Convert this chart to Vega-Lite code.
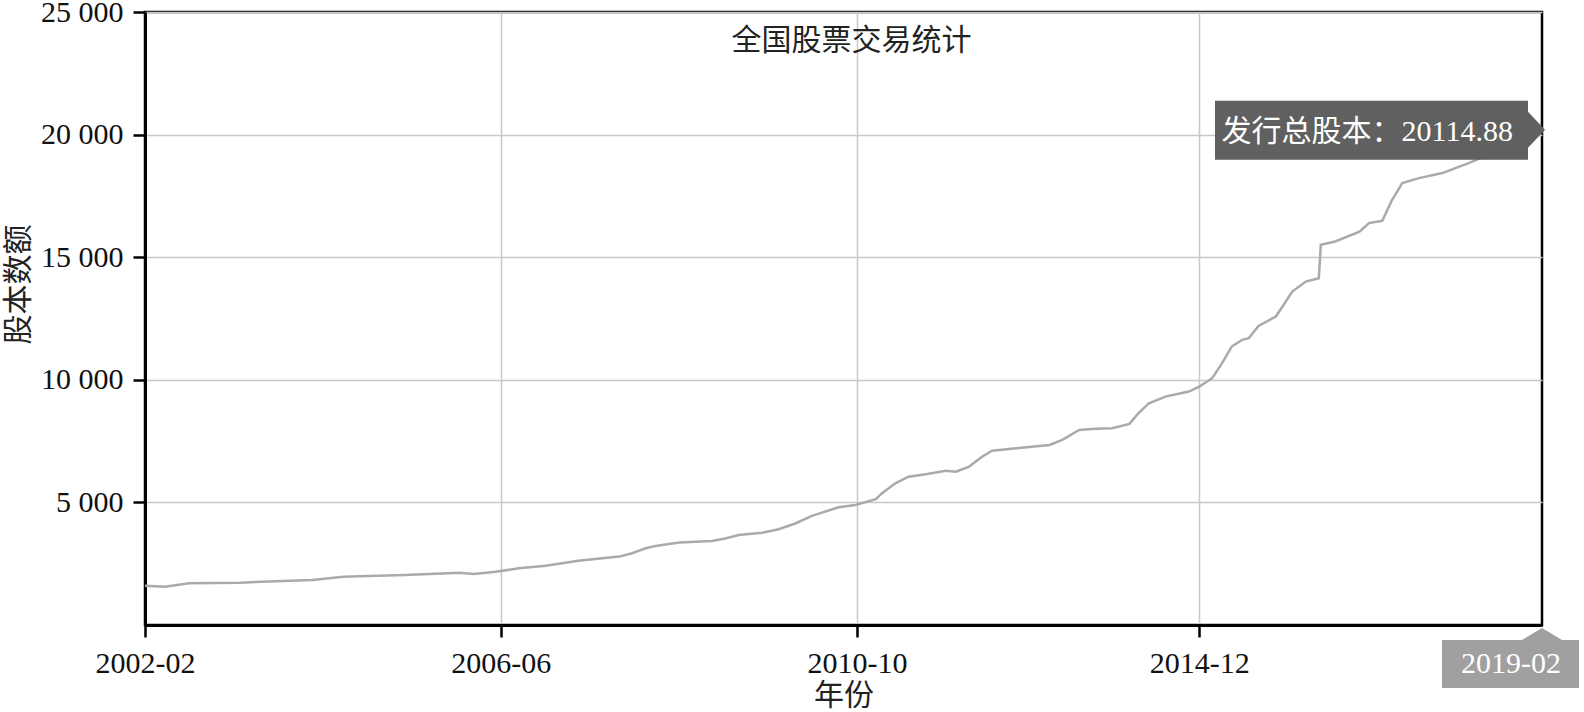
{
  "$schema": "https://vega.github.io/schema/vega-lite/v6.json",
  "width": 1397,
  "height": 613,
  "autosize": {"type": "none"},
  "padding": {"left": 145, "top": 12, "right": 42, "bottom": 87},
  "background": "white",
  "config": {
    "font": "'Liberation Serif', 'Noto Sans CJK SC'",
    "view": {"stroke": "#000000", "strokeWidth": 2.5}
  },
  "title": {
    "text": "全国股票交易统计",
    "fontSize": 30,
    "fontWeight": "normal",
    "color": "#222222",
    "anchor": "middle",
    "frame": "group",
    "offset": -59,
    "dx": 8
  },
  "datasets": {
    "series": [
      {"date": "2002-02-01", "value": 1600},
      {"date": "2002-05-01", "value": 1565},
      {"date": "2002-08-15", "value": 1700},
      {"date": "2003-04-01", "value": 1725},
      {"date": "2003-07-01", "value": 1765},
      {"date": "2004-02-15", "value": 1835},
      {"date": "2004-07-01", "value": 1970},
      {"date": "2005-04-01", "value": 2040},
      {"date": "2005-12-01", "value": 2135},
      {"date": "2006-02-01", "value": 2080},
      {"date": "2006-05-10", "value": 2175},
      {"date": "2006-08-20", "value": 2310},
      {"date": "2006-12-18", "value": 2420},
      {"date": "2007-05-12", "value": 2620},
      {"date": "2007-11-10", "value": 2790},
      {"date": "2008-01-06", "value": 2925},
      {"date": "2008-03-06", "value": 3130},
      {"date": "2008-04-18", "value": 3225},
      {"date": "2008-08-03", "value": 3360},
      {"date": "2008-12-27", "value": 3430},
      {"date": "2009-02-27", "value": 3540},
      {"date": "2009-04-24", "value": 3670},
      {"date": "2009-08-06", "value": 3765},
      {"date": "2009-10-18", "value": 3905},
      {"date": "2010-01-03", "value": 4150},
      {"date": "2010-03-15", "value": 4450},
      {"date": "2010-07-12", "value": 4800},
      {"date": "2010-09-24", "value": 4895},
      {"date": "2010-12-24", "value": 5130},
      {"date": "2011-01-21", "value": 5375},
      {"date": "2011-03-21", "value": 5780},
      {"date": "2011-05-18", "value": 6050},
      {"date": "2011-08-03", "value": 6150},
      {"date": "2011-11-01", "value": 6295},
      {"date": "2011-12-15", "value": 6255},
      {"date": "2012-02-12", "value": 6460},
      {"date": "2012-04-09", "value": 6865},
      {"date": "2012-05-24", "value": 7110},
      {"date": "2012-09-09", "value": 7210},
      {"date": "2013-02-03", "value": 7345},
      {"date": "2013-04-01", "value": 7550},
      {"date": "2013-06-15", "value": 7955},
      {"date": "2013-08-27", "value": 8000},
      {"date": "2013-11-09", "value": 8025},
      {"date": "2014-01-24", "value": 8200},
      {"date": "2014-03-06", "value": 8640},
      {"date": "2014-04-21", "value": 9045},
      {"date": "2014-07-03", "value": 9315},
      {"date": "2014-10-15", "value": 9520},
      {"date": "2014-12-01", "value": 9725},
      {"date": "2015-01-27", "value": 10065},
      {"date": "2015-03-12", "value": 10680},
      {"date": "2015-04-24", "value": 11355},
      {"date": "2015-06-09", "value": 11630},
      {"date": "2015-07-09", "value": 11700},
      {"date": "2015-08-21", "value": 12200},
      {"date": "2015-11-06", "value": 12580},
      {"date": "2015-12-06", "value": 12990},
      {"date": "2016-01-18", "value": 13600},
      {"date": "2016-03-18", "value": 14005},
      {"date": "2016-05-15", "value": 14145},
      {"date": "2016-05-24", "value": 15505},
      {"date": "2016-07-27", "value": 15640},
      {"date": "2016-11-12", "value": 16045},
      {"date": "2016-12-24", "value": 16390},
      {"date": "2017-02-21", "value": 16485},
      {"date": "2017-04-06", "value": 17340},
      {"date": "2017-05-21", "value": 18020},
      {"date": "2017-08-03", "value": 18225},
      {"date": "2017-11-15", "value": 18430},
      {"date": "2018-03-12", "value": 18840},
      {"date": "2018-08-15", "value": 19450},
      {"date": "2019-02-01", "value": 20114.88}
    ],
    "tip": [
      {"date": "2019-02-01", "value": 20114.88, "label": "发行总股本：20114.88", "axisLabel": "2019-02"}
    ]
  },
  "layer": [
    {
      "data": {"name": "series"},
      "mark": {"type": "line", "color": "#aaaaaa", "strokeWidth": 2.5},
      "encoding": {
        "x": {
          "field": "date",
          "type": "temporal",
          "scale": {
            "type": "utc",
            "domain": [
              {"year": 2002, "month": 2, "date": 1, "utc": true},
              {"year": 2019, "month": 2, "date": 1, "utc": true}
            ]
          },
          "axis": {
            "values": [
              {"year": 2002, "month": 2, "date": 1, "utc": true},
              {"year": 2006, "month": 6, "date": 1, "utc": true},
              {"year": 2010, "month": 10, "date": 1, "utc": true},
              {"year": 2014, "month": 12, "date": 1, "utc": true}
            ],
            "format": "%Y-%m",
            "title": "年份",
            "titleFontSize": 30,
            "titleFontWeight": "normal",
            "titleColor": "#222222",
            "titleY": 70,
            "titleBaseline": "middle",
            "labelFontSize": 30,
            "labelColor": "#111111",
            "labelPadding": 11,
            "labelFlush": false,
            "labelOverlap": false,
            "tickSize": 12,
            "tickWidth": 2.5,
            "tickColor": "#000000",
            "domainColor": "#000000",
            "domainWidth": 3,
            "grid": true,
            "gridColor": "#c8c8c8",
            "gridWidth": 1.5
          }
        },
        "y": {
          "field": "value",
          "type": "quantitative",
          "scale": {"domain": [0, 25000], "nice": false},
          "axis": {
            "values": [5000, 10000, 15000, 20000, 25000],
            "labelExpr": "replace(format(datum.value, ','), ',', ' ')",
            "title": "股本数额",
            "titleFontSize": 30,
            "titleFontWeight": "normal",
            "titleColor": "#222222",
            "titleX": -127,
            "titleY": 272,
            "titleAngle": -90,
            "titleAlign": "center",
            "titleBaseline": "middle",
            "labelFontSize": 30,
            "labelColor": "#111111",
            "labelPadding": 10,
            "labelFlush": false,
            "tickSize": 12,
            "tickWidth": 2.5,
            "tickColor": "#000000",
            "domainColor": "#000000",
            "domainWidth": 3,
            "grid": true,
            "gridColor": "#c8c8c8",
            "gridWidth": 1.5
          }
        }
      }
    },
    {
      "data": {"name": "tip"},
      "mark": {"type": "point", "shape": "M -327 -31 H -14 V -20 L 3 -2 L -14 16 V 28 H -327 Z", "size": 4, "filled": true, "color": "#606060", "opacity": 1},
      "encoding": {
        "x": {"field": "date", "type": "temporal"},
        "y": {"field": "value", "type": "quantitative"}
      }
    },
    {
      "data": {"name": "tip"},
      "mark": {"type": "text", "align": "right", "baseline": "middle", "dx": -29, "fontSize": 30, "color": "#ffffff"},
      "encoding": {
        "x": {"field": "date", "type": "temporal"},
        "y": {"field": "value", "type": "quantitative"},
        "text": {"field": "label"}
      }
    },
    {
      "data": {"name": "tip"},
      "mark": {"type": "point", "shape": "M -100 15 H -20 L 0 3 L 20 15 H 37 V 63 H -100 Z", "size": 4, "filled": true, "color": "#a0a0a0", "opacity": 1},
      "encoding": {
        "x": {"field": "date", "type": "temporal"},
        "y": {"datum": 0}
      }
    },
    {
      "data": {"name": "tip"},
      "mark": {"type": "text", "align": "center", "baseline": "middle", "dx": -31, "dy": 39, "fontSize": 30, "color": "#ffffff"},
      "encoding": {
        "x": {"field": "date", "type": "temporal"},
        "y": {"datum": 0},
        "text": {"field": "axisLabel"}
      }
    }
  ]
}
